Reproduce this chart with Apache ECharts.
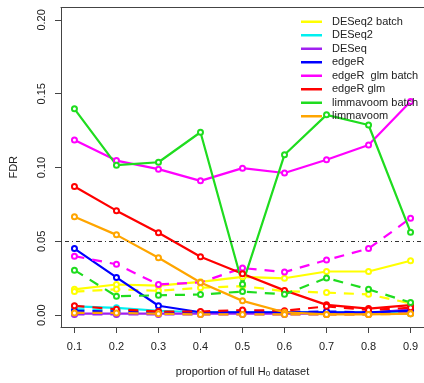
<!DOCTYPE html>
<html>
<head>
<meta charset="utf-8">
<script src="https://cdn.jsdelivr.net/npm/echarts@6/dist/echarts.min.js"></script>
<style>
  html, body { margin: 0; padding: 0; background: #fff; }
  #chart { width: 424px; height: 383px; }
</style>
</head>
<body>
<div id="chart"></div>
<script>
// proportion of the full H0 dataset used in each run
var proportions = [0.1, 0.2, 0.3, 0.4, 0.5, 0.6, 0.7, 0.8, 0.9];
var fdrTicks = [0, 0.05, 0.1, 0.15, 0.2];
var fdrLevel = 0.05;

var methods = ['DESeq2 batch', 'DESeq2', 'DESeq', 'edgeR', 'edgeR  glm batch', 'edgeR glm', 'limmavoom batch', 'limmavoom'];
var colors  = ['#ffff00', '#00f0f0', '#a020f0', '#0000ff', '#ff00ff', '#ff0000', '#1fdc1f', '#ffa500'];

// solid lines
var deseq2BatchA   = [0.0175, 0.0208, 0.0200, 0.0226, 0.0260, 0.0250, 0.0296, 0.0296, 0.0369];
var deseq2A        = [0.0060, 0.0050, 0.0030, 0.0020, 0.0020, 0.0020, 0.0020, 0.0020, 0.0010];
var deseqA         = [0.0010, 0.0010, 0.0010, 0.0010, 0.0010, 0.0010, 0.0010, 0.0015, 0.0040];
var edgerA         = [0.0451, 0.0256, 0.0064, 0.0020, 0.0020, 0.0020, 0.0020, 0.0020, 0.0030];
var edgerGlmBatchA = [0.1186, 0.1047, 0.0989, 0.0910, 0.0996, 0.0963, 0.1053, 0.1153, 0.1448];
var edgerGlmA      = [0.0872, 0.0708, 0.0558, 0.0396, 0.0281, 0.0168, 0.0070, 0.0045, 0.0068];
var limmaBatchA    = [0.1398, 0.1016, 0.1036, 0.1239, 0.0210, 0.1087, 0.1357, 0.1288, 0.0562];
var limmaA         = [0.0666, 0.0544, 0.0389, 0.0221, 0.0097, 0.0020, 0.0005, 0.0005, 0.0010];

// dashed lines
var deseq2BatchB   = [0.0160, 0.0175, 0.0165, 0.0186, 0.0197, 0.0163, 0.0153, 0.0141, 0.0080];
var deseq2B        = [0.0040, 0.0035, 0.0020, 0.0015, 0.0015, 0.0015, 0.0015, 0.0015, 0.0015];
var deseqB         = [0.0005, 0.0005, 0.0005, 0.0005, 0.0005, 0.0005, 0.0005, 0.0005, 0.0020];
var edgerB         = [0.0030, 0.0025, 0.0020, 0.0020, 0.0025, 0.0020, 0.0025, 0.0020, 0.0030];
var edgerGlmBatchB = [0.0400, 0.0345, 0.0208, 0.0222, 0.0319, 0.0292, 0.0374, 0.0451, 0.0657];
var edgerGlmB      = [0.0064, 0.0040, 0.0025, 0.0025, 0.0035, 0.0030, 0.0060, 0.0035, 0.0050];
var limmaBatchB    = [0.0305, 0.0128, 0.0135, 0.0140, 0.0160, 0.0141, 0.0252, 0.0175, 0.0086];
var limmaB         = [0.0015, 0.0015, 0.0010, 0.0005, 0.0005, 0.0005, 0.0005, 0.0005, 0.0010];

var solidSets  = [deseq2BatchA, deseq2A, deseqA, edgerA, edgerGlmBatchA, edgerGlmA, limmaBatchA, limmaA];
var dashedSets = [deseq2BatchB, deseq2B, deseqB, edgerB, edgerGlmBatchB, edgerGlmB, limmaBatchB, limmaB];

var FONT = '"Liberation Sans", Arial, Helvetica, sans-serif';
var AXIS_COLOR = '#444';
var TEXT_COLOR = '#222';

function pairs(values) {
  return proportions.map(function (p, i) { return [p, values[i]]; });
}

function lineSeries(name, values, color, dashed) {
  return {
    name: name,
    type: 'line',
    data: pairs(values),
    symbol: 'emptyCircle',
    symbolSize: 5,
    showAllSymbol: true,
    animation: false,
    lineStyle: { color: color, width: 2.2, type: dashed ? [10, 8] : 'solid' },
    itemStyle: { color: color, borderColor: color, borderWidth: 1.6 },
    emphasis: { disabled: true }
  };
}

var series = [];
methods.forEach(function (m, i) {
  series.push(lineSeries(m, solidSets[i], colors[i], false));
  series.push(lineSeries(m + ' (dashed)', dashedSets[i], colors[i], true));
});

// nominal FDR level as a dot-dash reference line
series[0].markLine = {
  silent: true,
  symbol: 'none',
  label: { show: false },
  animation: false,
  lineStyle: { color: '#333', width: 1, type: [1, 3, 4, 3] },
  data: [{ yAxis: fdrLevel }]
};

var option = {
  backgroundColor: '#fff',
  textStyle: { fontFamily: FONT },
  grid: { left: 60.4, top: 7.5, width: 366.2, height: 325.8 },
  legend: {
    data: methods.map(function (m) { return { name: m, icon: 'rect' }; }),
    orient: 'vertical',
    left: 301,
    top: 15,
    padding: 0,
    itemGap: 0,
    itemWidth: 21,
    itemHeight: 2.5,
    selectedMode: false,
    itemStyle: { borderWidth: 0 },
    lineStyle: { width: 0 },
    textStyle: { fontFamily: FONT, fontSize: 11, color: TEXT_COLOR, lineHeight: 13.5, padding: [0, 0, 0, 5] }
  },
  xAxis: [{
    type: 'value',
    min: 0.068,
    max: 0.932,
    splitLine: { show: false },
    axisLine: { show: true, onZero: false, lineStyle: { color: AXIS_COLOR, width: 1 } },
    axisTick: { show: true, length: 6, customValues: proportions, lineStyle: { color: AXIS_COLOR } },
    axisLabel: {
      customValues: proportions,
      margin: 14,
      fontSize: 11,
      color: TEXT_COLOR,
      fontFamily: FONT,
      formatter: function (v) { return v.toFixed(1); }
    },
    name: 'proportion of full H{sub|0} dataset',
    nameLocation: 'middle',
    nameGap: 38,
    nameTextStyle: {
      fontSize: 11,
      color: TEXT_COLOR,
      fontFamily: FONT,
      rich: { sub: { fontSize: 8, color: TEXT_COLOR, fontFamily: FONT, padding: [5, 0, 0, 0] } }
    }
  }, {
    type: 'value',
    position: 'top',
    min: 0.068,
    max: 0.932,
    splitLine: { show: false },
    axisLine: { show: true, onZero: false, lineStyle: { color: AXIS_COLOR, width: 1 } },
    axisTick: { show: false },
    axisLabel: { show: false }
  }],
  yAxis: [{
    type: 'value',
    min: -0.008,
    max: 0.2084,
    splitLine: { show: false },
    axisLine: { show: true, onZero: false, lineStyle: { color: AXIS_COLOR, width: 1 } },
    axisTick: { show: true, length: 6, customValues: fdrTicks, lineStyle: { color: AXIS_COLOR } },
    axisLabel: {
      customValues: fdrTicks,
      rotate: 90,
      margin: 14,
      fontSize: 11,
      color: TEXT_COLOR,
      fontFamily: FONT,
      formatter: function (v) { return v.toFixed(2); }
    },
    name: 'FDR',
    nameLocation: 'middle',
    nameRotate: 90,
    nameGap: 42,
    nameTextStyle: { fontSize: 11, color: TEXT_COLOR, fontFamily: FONT }
  }, {
    type: 'value',
    position: 'right',
    min: -0.008,
    max: 0.2084,
    splitLine: { show: false },
    axisLine: { show: true, onZero: false, lineStyle: { color: AXIS_COLOR, width: 1 } },
    axisTick: { show: false },
    axisLabel: { show: false }
  }],
  series: series
};

var chart = echarts.init(document.getElementById('chart'), null, { renderer: 'canvas' });
chart.setOption(option);
</script>
</body>
</html>
